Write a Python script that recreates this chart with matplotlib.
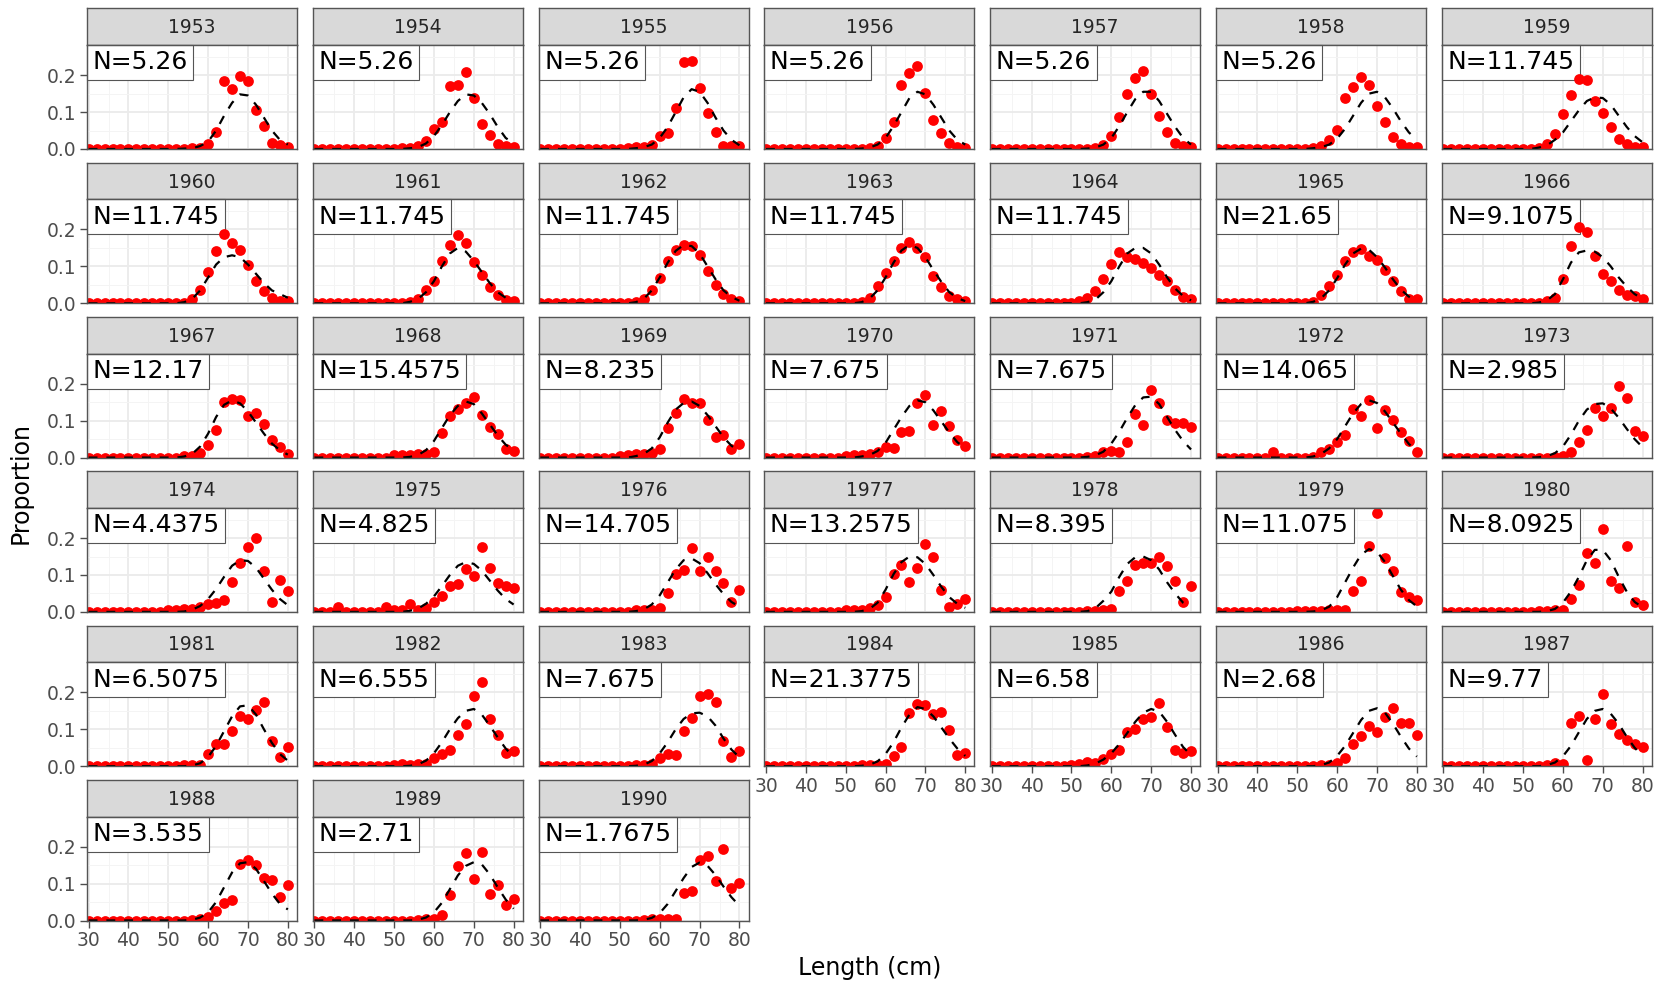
import matplotlib
matplotlib.use("Agg")
import matplotlib.pyplot as plt

# ── data ─────────────────────────────────────────────────────────────────────

LENGTHS = [30, 32, 34, 36, 38, 40, 42, 44, 46, 48, 50, 52, 54,
           56, 58, 60, 62, 64, 66, 68, 70, 72, 74, 76, 78, 80]
OBS_LENGTHS = [50, 52, 54, 56, 58, 60, 62, 64, 66, 68, 70, 72, 74, 76, 78, 80]
PRED_LENGTHS = [54, 56, 58, 60, 62, 64, 66, 68, 70, 72, 74, 76, 78, 80]

YEARS = list(range(1953, 1991))
N_LABELS = ["5.26", "5.26", "5.26", "5.26", "5.26", "5.26", "11.745",
            "11.745", "11.745", "11.745", "11.745", "11.745", "21.65", "9.1075",
            "12.17", "15.4575", "8.235", "7.675", "7.675", "14.065", "2.985",
            "4.4375", "4.825", "14.705", "13.2575", "8.395", "11.075", "8.0925",
            "6.5075", "6.555", "7.675", "21.3775", "6.58", "2.68", "9.77",
            "3.535", "2.71", "1.7675"]

# observed proportions at lengths 50..80 (below 50 they are zero)
OBS = [
    [0, 0, 0, 0.002, 0.004, 0.014, 0.047, 0.185, 0.162, 0.198, 0.185, 0.106, 0.061, 0.017, 0.011, 0.006],
    [0, 0.004, 0.004, 0.009, 0.022, 0.054, 0.074, 0.17, 0.173, 0.208, 0.139, 0.069, 0.039, 0.014, 0.008, 0.005],
    [0, 0.003, 0.005, 0.006, 0.011, 0.034, 0.043, 0.112, 0.236, 0.239, 0.164, 0.097, 0.046, 0.009, 0.009, 0.009],
    [0, 0, 0, 0.003, 0.009, 0.029, 0.072, 0.173, 0.206, 0.224, 0.153, 0.078, 0.042, 0.016, 0.006, 0.004],
    [0, 0, 0, 0.003, 0.01, 0.034, 0.087, 0.15, 0.193, 0.21, 0.149, 0.089, 0.045, 0.017, 0.009, 0.006],
    [0, 0, 0.003, 0.009, 0.025, 0.051, 0.139, 0.169, 0.196, 0.173, 0.117, 0.073, 0.032, 0.013, 0.006, 0.005],
    [0, 0, 0.004, 0.014, 0.04, 0.094, 0.147, 0.19, 0.187, 0.13, 0.098, 0.059, 0.028, 0.013, 0.006, 0.005],
    [0, 0, 0.002, 0.011, 0.036, 0.086, 0.141, 0.188, 0.163, 0.145, 0.105, 0.061, 0.033, 0.014, 0.006, 0.005],
    [0, 0, 0.003, 0.011, 0.035, 0.061, 0.115, 0.158, 0.185, 0.163, 0.111, 0.077, 0.045, 0.022, 0.009, 0.006],
    [0, 0, 0.003, 0.011, 0.036, 0.068, 0.114, 0.145, 0.159, 0.154, 0.132, 0.088, 0.05, 0.025, 0.011, 0.006],
    [0, 0, 0.003, 0.015, 0.047, 0.082, 0.115, 0.149, 0.167, 0.149, 0.126, 0.073, 0.043, 0.02, 0.011, 0.006],
    [0, 0.005, 0.015, 0.034, 0.067, 0.106, 0.138, 0.125, 0.12, 0.108, 0.095, 0.076, 0.061, 0.035, 0.018, 0.011],
    [0, 0, 0.004, 0.023, 0.047, 0.076, 0.115, 0.138, 0.147, 0.127, 0.118, 0.091, 0.061, 0.034, 0.013, 0.013],
    [0, 0, 0.002, 0.005, 0.014, 0.067, 0.156, 0.208, 0.193, 0.127, 0.079, 0.061, 0.036, 0.023, 0.02, 0.011],
    [0, 0, 0.003, 0.005, 0.013, 0.033, 0.075, 0.15, 0.158, 0.155, 0.114, 0.12, 0.09, 0.049, 0.029, 0.011],
    [0.006, 0.006, 0.007, 0.009, 0.011, 0.015, 0.067, 0.114, 0.131, 0.149, 0.165, 0.115, 0.084, 0.063, 0.023, 0.018],
    [0.005, 0.008, 0.009, 0.011, 0.013, 0.022, 0.079, 0.12, 0.158, 0.149, 0.149, 0.102, 0.056, 0.061, 0.022, 0.038],
    [0.005, 0.006, 0.008, 0.011, 0.014, 0.029, 0.025, 0.069, 0.072, 0.149, 0.17, 0.088, 0.125, 0.085, 0.047, 0.032],
    [0, 0, 0.002, 0.005, 0.014, 0.018, 0.014, 0.042, 0.118, 0.088, 0.184, 0.149, 0.102, 0.093, 0.093, 0.084],
    [0, 0, 0.002, 0.014, 0.023, 0.043, 0.061, 0.131, 0.114, 0.156, 0.081, 0.129, 0.102, 0.07, 0.045, 0.015],
    [0, 0, 0, 0, 0.002, 0.004, 0.014, 0.041, 0.076, 0.135, 0.114, 0.134, 0.193, 0.161, 0.073, 0.059],
    [0.004, 0.005, 0.007, 0.007, 0.012, 0.021, 0.024, 0.033, 0.08, 0.132, 0.175, 0.2, 0.11, 0.026, 0.087, 0.057],
    [0.004, 0.006, 0.021, 0.006, 0.01, 0.026, 0.042, 0.071, 0.075, 0.117, 0.096, 0.175, 0.12, 0.078, 0.071, 0.066],
    [0, 0, 0.004, 0.005, 0.006, 0.01, 0.051, 0.102, 0.114, 0.173, 0.111, 0.15, 0.111, 0.078, 0.026, 0.06],
    [0.004, 0.005, 0.006, 0.01, 0.019, 0.04, 0.102, 0.128, 0.08, 0.12, 0.184, 0.149, 0.058, 0.014, 0.021, 0.034],
    [0, 0, 0.002, 0.003, 0.005, 0.008, 0.057, 0.084, 0.128, 0.132, 0.132, 0.148, 0.123, 0.085, 0.028, 0.071],
    [0.003, 0.003, 0.003, 0.003, 0.004, 0.004, 0.006, 0.056, 0.084, 0.179, 0.267, 0.145, 0.111, 0.055, 0.041, 0.031],
    [0, 0, 0.002, 0.003, 0.004, 0.006, 0.034, 0.073, 0.159, 0.132, 0.224, 0.084, 0.065, 0.178, 0.027, 0.02],
    [0, 0, 0.003, 0.004, 0.004, 0.032, 0.06, 0.06, 0.094, 0.135, 0.127, 0.151, 0.174, 0.068, 0.024, 0.051],
    [0.003, 0.006, 0.004, 0.005, 0.006, 0.023, 0.032, 0.045, 0.085, 0.115, 0.189, 0.227, 0.128, 0.085, 0.037, 0.042],
    [0, 0, 0.002, 0.003, 0.005, 0.023, 0.032, 0.03, 0.095, 0.13, 0.189, 0.196, 0.173, 0.069, 0.025, 0.042],
    [0, 0, 0.002, 0.003, 0.004, 0.006, 0.027, 0.051, 0.144, 0.169, 0.165, 0.142, 0.148, 0.098, 0.03, 0.035],
    [0.004, 0.007, 0.012, 0.008, 0.02, 0.033, 0.045, 0.093, 0.1, 0.129, 0.134, 0.172, 0.105, 0.045, 0.036, 0.04],
    [0, 0, 0, 0.002, 0.004, 0.01, 0.022, 0.061, 0.083, 0.109, 0.093, 0.134, 0.158, 0.117, 0.117, 0.084],
    [0, 0, 0, 0.003, 0.01, 0.006, 0.117, 0.136, 0.016, 0.129, 0.196, 0.114, 0.086, 0.071, 0.059, 0.051],
    [0, 0, 0, 0.002, 0.003, 0.009, 0.025, 0.048, 0.055, 0.153, 0.164, 0.15, 0.116, 0.111, 0.064, 0.097],
    [0, 0, 0, 0.002, 0.003, 0.004, 0.014, 0.068, 0.148, 0.184, 0.112, 0.186, 0.071, 0.095, 0.041, 0.059],
    [0, 0, 0, 0.002, 0.003, 0.003, 0.003, 0.003, 0.075, 0.08, 0.164, 0.175, 0.107, 0.194, 0.089, 0.102],
]
# a few small observations below 50 cm
EARLY_OBS = {1972: {44: 0.015}, 1975: {36: 0.012, 48: 0.014}}

# predicted proportions at lengths 54..80 (below 54 they are zero)
PRED = [
    [0.001, 0.002, 0.008, 0.02, 0.05, 0.09, 0.125, 0.148, 0.145, 0.12, 0.085, 0.05, 0.025, 0.012],
    [0.002, 0.005, 0.015, 0.035, 0.065, 0.1, 0.13, 0.148, 0.145, 0.125, 0.095, 0.06, 0.03, 0.015],
    [0.002, 0.005, 0.012, 0.03, 0.06, 0.1, 0.14, 0.162, 0.155, 0.125, 0.085, 0.05, 0.025, 0.01],
    [0.001, 0.004, 0.012, 0.03, 0.062, 0.1, 0.138, 0.155, 0.148, 0.12, 0.085, 0.05, 0.025, 0.012],
    [0.001, 0.004, 0.012, 0.03, 0.062, 0.1, 0.135, 0.155, 0.155, 0.13, 0.095, 0.06, 0.03, 0.012],
    [0.002, 0.005, 0.012, 0.028, 0.055, 0.09, 0.125, 0.15, 0.155, 0.14, 0.11, 0.075, 0.045, 0.025],
    [0.004, 0.01, 0.025, 0.045, 0.075, 0.105, 0.13, 0.14, 0.138, 0.12, 0.09, 0.06, 0.035, 0.018],
    [0.003, 0.012, 0.035, 0.07, 0.105, 0.125, 0.13, 0.125, 0.105, 0.08, 0.055, 0.035, 0.025, 0.015],
    [0.004, 0.012, 0.03, 0.06, 0.1, 0.135, 0.15, 0.14, 0.115, 0.085, 0.055, 0.03, 0.015, 0.008],
    [0.003, 0.012, 0.035, 0.07, 0.11, 0.142, 0.158, 0.155, 0.135, 0.1, 0.065, 0.035, 0.017, 0.007],
    [0.003, 0.013, 0.035, 0.07, 0.11, 0.143, 0.158, 0.15, 0.125, 0.09, 0.058, 0.03, 0.014, 0.006],
    [0.003, 0.01, 0.03, 0.06, 0.1, 0.135, 0.15, 0.15, 0.135, 0.105, 0.07, 0.04, 0.02, 0.008],
    [0.004, 0.014, 0.035, 0.068, 0.105, 0.135, 0.148, 0.145, 0.125, 0.097, 0.065, 0.037, 0.018, 0.007],
    [0.002, 0.008, 0.025, 0.065, 0.11, 0.138, 0.143, 0.14, 0.125, 0.1, 0.07, 0.045, 0.025, 0.012],
    [0.003, 0.01, 0.03, 0.065, 0.11, 0.143, 0.155, 0.147, 0.125, 0.095, 0.065, 0.038, 0.02, 0.008],
    [0.002, 0.007, 0.02, 0.045, 0.08, 0.115, 0.14, 0.152, 0.145, 0.12, 0.09, 0.06, 0.035, 0.02],
    [0.004, 0.01, 0.025, 0.055, 0.095, 0.13, 0.148, 0.152, 0.14, 0.115, 0.085, 0.055, 0.032, 0.017],
    [0.003, 0.007, 0.018, 0.04, 0.075, 0.11, 0.14, 0.155, 0.15, 0.128, 0.098, 0.068, 0.042, 0.025],
    [0.002, 0.006, 0.016, 0.038, 0.07, 0.108, 0.142, 0.163, 0.165, 0.145, 0.11, 0.075, 0.045, 0.022],
    [0.003, 0.01, 0.025, 0.05, 0.085, 0.12, 0.145, 0.155, 0.148, 0.125, 0.095, 0.065, 0.037, 0.018],
    [0.001, 0.004, 0.012, 0.03, 0.062, 0.1, 0.13, 0.145, 0.147, 0.133, 0.108, 0.078, 0.05, 0.028],
    [0.001, 0.006, 0.016, 0.035, 0.062, 0.095, 0.125, 0.14, 0.138, 0.12, 0.09, 0.06, 0.035, 0.018],
    [0.003, 0.009, 0.022, 0.042, 0.07, 0.1, 0.125, 0.135, 0.13, 0.112, 0.085, 0.058, 0.035, 0.02],
    [0.002, 0.007, 0.02, 0.045, 0.08, 0.115, 0.14, 0.145, 0.132, 0.105, 0.075, 0.048, 0.027, 0.014],
    [0.002, 0.008, 0.025, 0.06, 0.102, 0.135, 0.15, 0.148, 0.13, 0.1, 0.068, 0.04, 0.022, 0.011],
    [0.002, 0.01, 0.03, 0.055, 0.095, 0.13, 0.148, 0.15, 0.14, 0.115, 0.08, 0.05, 0.025, 0.012],
    [0.001, 0.004, 0.014, 0.04, 0.08, 0.12, 0.155, 0.17, 0.163, 0.135, 0.097, 0.06, 0.032, 0.015],
    [0.0, 0.002, 0.008, 0.025, 0.055, 0.095, 0.14, 0.168, 0.168, 0.14, 0.095, 0.055, 0.027, 0.012],
    [0.0, 0.002, 0.008, 0.025, 0.055, 0.095, 0.135, 0.162, 0.165, 0.14, 0.1, 0.063, 0.033, 0.015],
    [0.001, 0.005, 0.015, 0.035, 0.065, 0.1, 0.13, 0.15, 0.155, 0.14, 0.11, 0.078, 0.048, 0.025],
    [0.001, 0.004, 0.014, 0.035, 0.065, 0.1, 0.128, 0.143, 0.145, 0.135, 0.11, 0.075, 0.045, 0.024],
    [0.001, 0.004, 0.013, 0.033, 0.065, 0.105, 0.14, 0.16, 0.155, 0.135, 0.105, 0.075, 0.048, 0.028],
    [0.002, 0.007, 0.018, 0.035, 0.06, 0.09, 0.12, 0.145, 0.155, 0.148, 0.12, 0.085, 0.052, 0.03],
    [0.0, 0.003, 0.01, 0.028, 0.055, 0.09, 0.125, 0.15, 0.157, 0.145, 0.115, 0.08, 0.048, 0.026],
    [0.0, 0.003, 0.01, 0.027, 0.055, 0.092, 0.128, 0.15, 0.155, 0.142, 0.115, 0.08, 0.05, 0.027],
    [0.0, 0.002, 0.008, 0.022, 0.05, 0.09, 0.13, 0.155, 0.158, 0.14, 0.107, 0.073, 0.045, 0.03],
    [0.0, 0.002, 0.008, 0.022, 0.048, 0.085, 0.122, 0.148, 0.158, 0.152, 0.125, 0.09, 0.057, 0.032],
    [0.0, 0.002, 0.007, 0.02, 0.045, 0.08, 0.115, 0.145, 0.157, 0.148, 0.123, 0.092, 0.063, 0.04],
]

# ── layout (pixels of the 1662x985 figure) ──────────────────────────────────

FIG_W, FIG_H = 1662, 985
NCOL = 7
COL_X0, COL_STEP, PANEL_W = 87, 225.8, 210
STRIP_TOP0, STRIP_H, PANEL_H, ROW_STEP = 8.3, 36.7, 104, 154.3
XLIM = (29.6, 82.3)
YLIM = (0, 0.2817)

BORDER = "#555555"
TICK_COL = "#4D4D4D"
LABEL_SIZE = 18
LABEL_PAD = 0.22


def full_series(values, lengths, extra=None):
    d = {L: 0.0 for L in LENGTHS}
    for L, v in zip(lengths, values):
        d[L] = v
    if extra:
        d.update(extra)
    return [d[L] for L in LENGTHS]


def box(col, top_px, h_px):
    left = COL_X0 + col * COL_STEP
    return [left / FIG_W, 1 - (top_px + h_px) / FIG_H, PANEL_W / FIG_W, h_px / FIG_H]


fig = plt.figure(figsize=(FIG_W / 100, FIG_H / 100), dpi=100)

nyears = len(YEARS)
last_row = (nyears - 1) // NCOL

for i, year in enumerate(YEARS):
    row, col = divmod(i, NCOL)
    strip_top = STRIP_TOP0 + row * ROW_STEP
    panel_top = strip_top + STRIP_H

    # strip
    sax = fig.add_axes(box(col, strip_top, STRIP_H))
    sax.set_facecolor("#D9D9D9")
    sax.set_xticks([])
    sax.set_yticks([])
    for sp in sax.spines.values():
        sp.set_color(BORDER)
        sp.set_linewidth(1.0)
    sax.text(0.5, 0.47, str(year), ha="center", va="center",
             fontsize=13.5, color="#262626", transform=sax.transAxes)

    # panel
    ax = fig.add_axes(box(col, panel_top, PANEL_H))
    obs = full_series(OBS[i], OBS_LENGTHS, EARLY_OBS.get(year))
    pred = full_series(PRED[i], PRED_LENGTHS)

    ax.scatter(LENGTHS, obs, s=60, color="#FF0000", linewidths=0, zorder=4)
    ax.plot(LENGTHS, pred, color="black", lw=1.6, ls=(0, (4, 4)), zorder=5)

    ax.set_xlim(*XLIM)
    ax.set_ylim(*YLIM)
    ax.set_xticks([30, 40, 50, 60, 70, 80])
    ax.set_xticks([35, 45, 55, 65, 75], minor=True)
    ax.set_yticks([0.0, 0.1, 0.2])
    ax.set_yticks([0.05, 0.15, 0.25], minor=True)
    ax.grid(which="major", color="#EBEBEB", lw=1.3, zorder=0)
    ax.grid(which="minor", color="#F4F4F4", lw=0.7, zorder=0)
    ax.set_axisbelow(True)
    for sp in ax.spines.values():
        sp.set_color(BORDER)
        sp.set_linewidth(1.0)
        sp.set_zorder(6)

    ax.tick_params(which="minor", length=0)
    ax.tick_params(which="major", color=TICK_COL, labelcolor=TICK_COL,
                   labelsize=13.5, length=5, width=1.0, pad=2.5)

    is_bottom = (row == last_row) or (i + NCOL >= nyears)
    if not is_bottom:
        ax.tick_params(axis="x", labelbottom=False, length=0)
    else:
        ax.set_xticklabels(["30", "40", "50", "60", "70", "80"])
    if col != 0:
        ax.tick_params(axis="y", labelleft=False, length=0)
    else:
        ax.set_yticklabels(["0.0", "0.1", "0.2"])

    off = LABEL_PAD * LABEL_SIZE
    ax.annotate(f"N={N_LABELS[i]}", xy=(0, 1), xycoords="axes fraction",
                xytext=(off, -off), textcoords="offset points",
                ha="left", va="top", fontsize=LABEL_SIZE, color="black", zorder=3,
                bbox=dict(boxstyle=f"square,pad={LABEL_PAD}", fc="white",
                          ec=BORDER, lw=0.8))

# axis titles
panels_bottom = STRIP_TOP0 + last_row * ROW_STEP + STRIP_H + PANEL_H
fig.text((COL_X0 + (COL_X0 + 6 * COL_STEP + PANEL_W)) / 2 / FIG_W, 1 - 968 / FIG_H,
         "Length (cm)", ha="center", va="center", fontsize=17)
fig.text(21 / FIG_W, 1 - ((STRIP_TOP0 + STRIP_H + panels_bottom) / 2) / FIG_H,
         "Proportion", ha="center", va="center", rotation=90, fontsize=17)

fig.savefig("out.png", dpi=100)
